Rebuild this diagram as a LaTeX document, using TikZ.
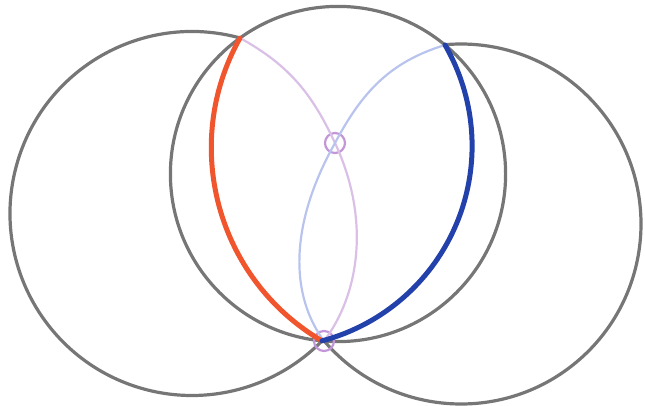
\documentclass[tikz,border=0pt]{standalone}
\usepackage{xcolor}
\usepackage{tikz}
\usetikzlibrary{calc}

\definecolor{ringgray}{RGB}{118,118,118}
\definecolor{arcred}{RGB}{240,85,45}
\definecolor{arcblue}{RGB}{35,65,170}
\definecolor{paleviolet}{RGB}{218,192,230}
\definecolor{paleblue}{RGB}{185,196,238}
\definecolor{markviolet}{RGB}{195,150,215}

\begin{document}
\begin{tikzpicture}[x=1pt, y=1pt,
  ring/.style={draw=ringgray, line width=3.2pt},
  boldarc/.style={draw=#1, line width=5pt, line cap=round},
  thinarc/.style={draw=#1, line width=2.2pt},
  marker/.style={draw=markviolet, line width=2.2pt, circle, minimum size=20pt, inner sep=0pt}
]
\useasboundingbox (0,0) rectangle (645,405);

% Centres of the circles
\coordinate (cL) at (192,191.5);
\coordinate (cM) at (338,231);
\coordinate (cR) at (461,181);
\coordinate (cRed) at (435.2,257.3);
\coordinate (cBlue) at (270.5,259.05);

% Points where the curves meet
\coordinate (A) at (240,367);
\coordinate (B) at (445,360);

% Gray circles
\draw[ring] (cM) circle[radius=167.6];
\draw[ring] (cL) ++(74.7:182) arc[start angle=74.7, end angle=315.6, radius=182];
\draw[ring] (cR) ++(220.1:180) arc[start angle=220.1, end angle=455.1, radius=180];

% Marked points
\node[marker] (Q) at (335,262) {};
\node[marker] (P) at (324,64) {};

% Pale curves crossing at Q
\draw[thinarc=paleviolet] (A) to[out=-29, in=115] (Q.center)
  .. controls (371,185) and (359,110) .. (P.center);
\draw[thinarc=paleblue] (B) to[out=197, in=62] (Q.center)
  .. controls (289,180) and (290,110) .. (P.center);

% Bold arcs
\draw[boldarc=arcred] (cRed) ++(150.7:223.9) arc[start angle=150.7, end angle=239.6, radius=223.9];
\draw[boldarc=arcblue] (cBlue) ++(30.05:201.6) arc[start angle=30.05, end angle=-75.2, radius=201.6];

\end{tikzpicture}
\end{document}
